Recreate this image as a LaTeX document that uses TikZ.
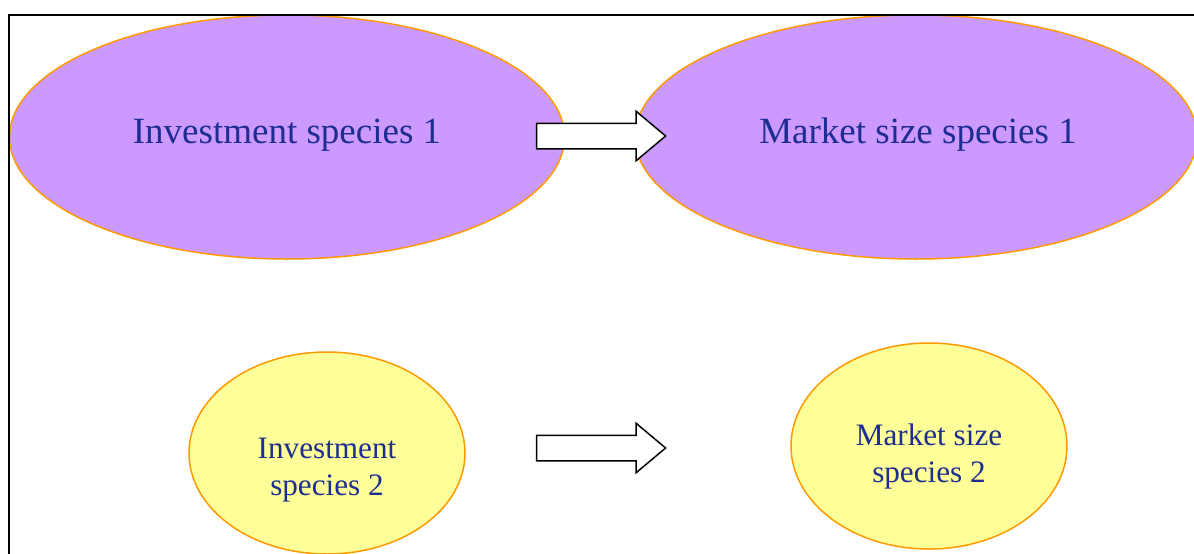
\documentclass[tikz,border=0pt]{standalone}
\usepackage{fontspec}
\setmainfont{Liberation Serif}
\usepackage{xcolor}
\usetikzlibrary{shapes.geometric,shapes.arrows}
\definecolor{lilac}{RGB}{204,153,255}
\definecolor{paleyellow}{RGB}{255,255,153}
\definecolor{rimorange}{RGB}{255,153,0}
\definecolor{inkblue}{RGB}{30,45,145}
\begin{document}
\begin{tikzpicture}[x=1pt,y=-1pt]
\tikzstyle{blob}=[ellipse, draw=rimorange, line width=1.5pt, inner sep=0pt]
\tikzstyle{big blob}=[blob, fill=lilac, minimum width=555pt, minimum height=244pt]
\tikzstyle{small blob}=[blob, fill=paleyellow, minimum width=276pt, minimum height=204pt]
\tikzstyle{big label}=[text=inkblue, font=\fontsize{37}{44}\selectfont]
\tikzstyle{small label}=[text=inkblue, align=center, font=\fontsize{31.2}{37}\selectfont]
\tikzstyle{block arrow}=[single arrow, draw=black, fill=white, line width=1.5pt,
    inner xsep=0pt, inner ysep=12pt, minimum height=129pt,
    single arrow head extend=12pt, single arrow tip angle=80]
\clip (0,0) rectangle (1194,554);
\useasboundingbox (0,0) rectangle (1194,554);
% top row
\node[big blob] (inv1) at (287,137) {};
\node[big blob, minimum width=562pt] (mkt1) at (916,137) {};
\node[big label] (inv1 text) at (287,135) {Investment species 1};
\node[big label] (mkt1 text) at (918,135) {Market size species 1};
% bottom row
\node[small blob, minimum height=202pt] (inv2) at (327,453) {};
\node[small blob, minimum height=206pt] (mkt2) at (929,446) {};
\node[small label] (inv2 text) at (327,470) {Investment\\species 2};
\node[small label] (mkt2 text) at (929,456) {Market size\\species 2};
% arrows
\node[block arrow] (arr1) at (593.5,136) {};
\node[block arrow] (arr2) at (593.5,448) {};
% frame
\draw[line width=2pt] (8.5,560) -- (8.5,15) -- (1200,15);
\end{tikzpicture}
\end{document}
